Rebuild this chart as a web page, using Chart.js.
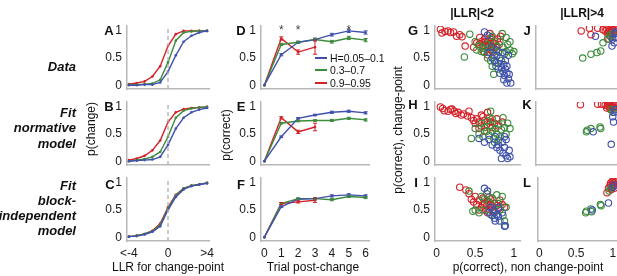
<!DOCTYPE html>
<html lang="en">
<head>
<meta charset="UTF-8">
<title>Change-point behaviour panels</title>
<script src="https://cdn.jsdelivr.net/npm/chart.js"></script>
<style>
  body { margin: 0; width: 617px; height: 276px; overflow: hidden; background: #fff;
         font-family: "Liberation Sans", Arial, sans-serif; position: relative; color: #111; }
  canvas { position: absolute; }
  .t { position: absolute; white-space: nowrap; line-height: 1; }
  .leg { position: absolute; height: 2px; width: 12px; }
</style>
</head>
<body>
<script>
// ---- data ----
const llrX = [-4, -3.2, -2.4, -1.6, -0.8, 0, 0.8, 1.6, 2.4, 3.2, 4];
const aBlue  = [0.0, 0.0, 0.01, 0.01, 0.05, 0.25, 0.55, 0.8, 0.91, 0.97, 1.0];
const aGreen = [0.01, 0.01, 0.02, 0.03, 0.1, 0.42, 0.82, 0.97, 0.99, 1.0, 1.0];
const aRed   = [0.02, 0.04, 0.07, 0.16, 0.35, 0.72, 0.94, 1.0, 1.0, 1.0, 1.0];
const bBlue  = [0.0, 0.01, 0.02, 0.03, 0.08, 0.3, 0.6, 0.8, 0.9, 0.95, 0.98];
const bGreen = [0.0, 0.02, 0.04, 0.08, 0.17, 0.45, 0.8, 0.93, 0.97, 0.99, 1.0];
const bRed   = [0.02, 0.05, 0.1, 0.2, 0.38, 0.72, 0.9, 0.96, 0.98, 0.99, 1.0];
const cBlue  = [0.01, 0.02, 0.05, 0.1, 0.2, 0.5, 0.74, 0.88, 0.94, 0.97, 0.99];
const cGreen = [0.01, 0.03, 0.06, 0.11, 0.23, 0.53, 0.77, 0.9, 0.95, 0.97, 1.0];
const cRed   = [0.01, 0.03, 0.06, 0.12, 0.25, 0.55, 0.78, 0.9, 0.95, 0.97, 1.0];

const trialX = [0, 1, 2, 3, 4, 5, 6];
const redTrialX = [0, 1, 2, 3];
const dBlue  = [0, 0.56, 0.79, 0.84, 0.93, 1.0, 0.97];
const dGreen = [0, 0.75, 0.79, 0.84, 0.8, 0.87, 0.83];
const dRed   = [0, 0.86, 0.61, 0.7];
const dBlueErr  = [0, 0.02, 0.02, 0.025, 0.025, 0.03, 0.03];
const dGreenErr = [0, 0.02, 0.02, 0.025, 0.025, 0.03, 0.03];
const dRedErr   = [0, 0.03, 0.04, 0.13];
const eBlue  = [0, 0.45, 0.79, 0.85, 0.9, 0.92, 0.89];
const eGreen = [0, 0.7, 0.74, 0.75, 0.75, 0.79, 0.76];
const eRed   = [0, 0.8, 0.54, 0.63];
const eBlueErr  = [0, 0.015, 0.015, 0.015, 0.02, 0.02, 0.02];
const eGreenErr = [0, 0.015, 0.015, 0.015, 0.02, 0.02, 0.02];
const eRedErr   = [0, 0.02, 0.03, 0.07];
const fBlue  = [0, 0.56, 0.7, 0.71, 0.76, 0.78, 0.76];
const fGreen = [0, 0.62, 0.71, 0.71, 0.69, 0.75, 0.73];
const fRed   = [0, 0.62, 0.65, 0.68];
const fBlueErr  = [0, 0.015, 0.015, 0.02, 0.02, 0.02, 0.02];
const fGreenErr = [0, 0.015, 0.015, 0.02, 0.02, 0.02, 0.02];
const fRedErr   = [0, 0.02, 0.02, 0.04];
const starX = [1, 2, 5];
const starY = 1.07;

// p(correct) non change-point vs change-point
const gRed = [[0.05,1.03],[0.07,0.96],[0.11,0.99],[0.15,1.0],[0.18,0.97],[0.22,0.98],[0.26,0.9],[0.3,0.93],[0.33,0.89],
  [0.37,0.72],[0.48,0.7],[0.52,0.78],[0.55,0.75],[0.56,0.88],[0.58,0.8],[0.6,0.72],[0.61,0.62],[0.62,0.85],[0.64,0.7],
  [0.65,0.78],[0.66,0.56],[0.67,0.82],[0.68,0.75],[0.69,0.95],[0.7,0.65],[0.71,0.88],[0.72,0.72],[0.73,0.6],[0.74,0.78],
  [0.75,0.82],[0.77,0.7],[0.79,0.85],[0.81,0.75],[0.83,0.9],[0.63,0.8],[0.66,0.73],[0.7,0.8]];
const gGreen = [[0.36,0.52],[0.43,0.94],[0.5,0.8],[0.55,0.72],[0.6,0.68],[0.62,0.6],[0.65,0.75],[0.68,0.7],[0.7,0.85],
  [0.72,0.9],[0.74,0.65],[0.75,0.55],[0.78,0.72],[0.8,0.62],[0.82,0.8],[0.85,0.95],[0.86,0.7],[0.88,0.58],[0.9,0.62],
  [0.92,0.75],[0.95,0.65],[0.98,0.58],[1.0,0.62],[0.7,0.45],[0.72,0.35],[0.76,0.42],[0.8,0.3],[0.74,0.2],[0.84,0.45],
  [0.66,0.5],[0.58,0.62],[0.9,0.88],[0.52,0.65],[0.95,0.8]];
const gBlue = [[0.62,0.98],[0.66,0.92],[0.68,0.6],[0.72,0.5],[0.75,0.45],[0.78,0.55],[0.8,0.4],[0.82,0.5],[0.84,0.32],
  [0.86,0.25],[0.87,0.38],[0.89,0.3],[0.88,0.18],[0.91,0.22],[0.93,0.12],[0.91,0.04],[0.96,0.04],[0.78,0.65],[0.85,0.6],
  [0.89,0.45],[0.94,0.2],[0.82,0.22],[0.77,0.35],[0.71,0.7],[0.87,0.1],[0.91,0.35],[0.93,0.55]];
const hRed = [[0.05,1.0],[0.08,0.97],[0.1,0.93],[0.15,0.92],[0.18,0.95],[0.2,0.96],[0.23,0.92],[0.25,0.88],[0.28,0.9],
  [0.32,0.85],[0.35,0.87],[0.4,0.83],[0.42,0.92],[0.45,0.8],[0.48,0.75],[0.5,0.7],[0.52,0.78],[0.55,0.72],[0.58,0.65],
  [0.6,0.82],[0.62,0.75],[0.65,0.68],[0.68,0.8],[0.7,0.72],[0.72,0.62],[0.75,0.7],[0.78,0.78],[0.55,0.6],[0.62,0.55],
  [0.8,0.65],[0.85,0.72],[0.58,0.85],[0.66,0.9]];
const hGreen = [[0.45,0.42],[0.5,0.6],[0.55,0.5],[0.6,0.45],[0.62,0.62],[0.65,0.55],[0.68,0.48],[0.7,0.65],[0.72,0.55],
  [0.74,0.42],[0.76,0.6],[0.78,0.5],[0.8,0.68],[0.82,0.45],[0.84,0.58],[0.86,0.8],[0.88,0.62],[0.9,0.5],[0.7,0.92],
  [0.66,0.75],[0.58,0.7],[0.75,0.35],[0.92,0.7],[0.8,0.38],[0.95,0.6],[0.72,0.78]];
const hBlue = [[0.55,0.42],[0.62,0.35],[0.68,0.4],[0.72,0.3],[0.76,0.45],[0.8,0.3],[0.82,0.2],[0.85,0.35],[0.86,0.15],
  [0.88,0.25],[0.9,0.1],[0.92,0.05],[0.95,0.08],[0.9,0.4],[0.84,0.05],[0.78,0.25],[0.88,0.45],[0.94,0.2]];
const iRed = [[0.3,0.92],[0.38,0.87],[0.42,0.8],[0.45,0.7],[0.48,0.65],[0.5,0.75],[0.52,0.6],[0.55,0.68],[0.58,0.55],
  [0.6,0.72],[0.62,0.62],[0.64,0.5],[0.65,0.58],[0.66,0.66],[0.68,0.52],[0.7,0.6],[0.7,0.7],[0.72,0.55],[0.74,0.48],
  [0.75,0.62],[0.78,0.58],[0.8,0.52],[0.82,0.68],[0.85,0.6],[0.88,0.55],[0.66,0.45],[0.6,0.6],[0.55,0.5],[0.68,0.74]];
const iGreen = [[0.42,0.85],[0.47,0.48],[0.5,0.5],[0.55,0.45],[0.6,0.5],[0.62,0.7],[0.65,0.8],[0.68,0.65],[0.72,0.72],
  [0.75,0.45],[0.78,0.78],[0.8,0.62],[0.82,0.5],[0.85,0.75],[0.86,0.4],[0.88,0.3],[0.9,0.55],[0.7,0.42],[0.58,0.75]];
const iBlue = [[0.62,0.9],[0.66,0.85],[0.68,0.45],[0.72,0.4],[0.75,0.35],[0.78,0.42],[0.8,0.38],[0.82,0.3],[0.85,0.45],
  [0.88,0.2],[0.89,0.21],[0.74,0.5],[0.7,0.55],[0.8,0.55],[0.76,0.3]];
const jRed = [[0.58,1.0],[0.69,1.05],[0.71,0.93],[0.8,1.05],[0.87,1.02],[0.9,1.0],[0.92,1.03],[0.94,0.98],[0.95,1.0],
  [0.96,1.04],[0.97,0.97],[0.98,1.0],[0.99,0.95],[1.0,1.02],[1.01,0.98],[1.02,1.03],[0.93,0.95],[0.97,0.9],[0.95,0.85],
  [1.03,1.0],[0.99,1.04]];
const jGreen = [[0.6,0.5],[0.71,0.57],[0.79,0.6],[0.84,0.63],[0.87,0.78],[0.93,0.85],[0.96,0.92],[0.98,0.88],[1.0,0.95]];
const jBlue = [[0.77,0.9],[1.03,0.95],[1.02,0.78],[0.99,0.72],[1.04,0.88],[1.0,0.85],[1.04,0.98]];
const kRed = [[0.57,1.04],[0.8,1.05],[0.85,1.05],[0.9,1.03],[0.92,0.98],[0.94,1.05],[0.95,1.0],[0.96,1.04],[0.97,0.95],
  [0.98,1.02],[0.99,0.98],[1.0,1.05],[1.01,1.0],[1.02,1.03],[0.93,1.02],[0.97,1.06],[1.03,0.98]];
const kGreen = [[0.65,0.54],[0.66,0.57],[0.71,0.6],[0.83,0.63],[0.84,0.6],[0.98,0.95],[1.0,0.9]];
const kBlue = [[0.74,0.54],[1.0,0.82],[1.01,0.72],[0.98,0.31],[1.02,0.9],[1.03,0.95]];
const lRed = [[0.92,0.82],[0.94,0.9],[0.96,0.95],[0.97,1.0],[0.98,0.93],[0.99,1.02],[1.0,0.97],[1.01,1.0],[1.02,0.95],
  [1.03,1.02],[1.0,1.04],[0.98,0.88],[1.02,0.9]];
const lGreen = [[0.63,0.45],[0.64,0.48],[0.7,0.52],[0.71,0.47],[0.83,0.6],[0.84,0.58],[0.95,0.85],[0.97,0.9]];
const lBlue = [[0.72,0.5],[0.94,0.63],[1.0,0.92],[1.02,0.96]];

// ---- style ----
const BLUE = '#4050ad', GREEN = '#3d8b3d', RED = '#d42128', AXIS = '#b8b8b8';
Chart.defaults.font.family = '"Liberation Sans", Arial, sans-serif';
Chart.defaults.font.size = 12;
Chart.defaults.color = '#1a1a1a';
Chart.defaults.animation = false;

const xy = (xs, ys) => ys.map((y, i) => ({ x: xs[i], y: y }));
const pts = arr => arr.map(p => ({ x: p[0], y: p[1] }));

function lineSet(xs, ys, color, errs) {
  return { data: xy(xs, ys), borderColor: color, backgroundColor: color, showLine: true,
           borderWidth: 1.4, pointRadius: 1.3, pointBorderWidth: 0, errs: errs };
}
function dotSet(arr, color) {
  return { data: pts(arr), borderColor: color, backgroundColor: 'rgba(0,0,0,0)',
           pointRadius: 3.2, borderWidth: 1.1, pointBorderWidth: 1.1 };
}
function dashSet() {
  return { data: [{ x: 0, y: -0.07 }, { x: 0, y: 1.09 }], borderColor: '#b0b0b0', borderDash: [4, 3],
           borderWidth: 1.3, showLine: true, pointRadius: 0 };
}

const errorBars = {
  id: 'errorBars',
  afterDatasetsDraw(chart) {
    const ctx = chart.ctx, ys = chart.scales.y;
    chart.data.datasets.forEach((ds, i) => {
      if (!ds.errs) return;
      const meta = chart.getDatasetMeta(i);
      ctx.save();
      ctx.strokeStyle = ds.borderColor;
      ctx.lineWidth = 1;
      meta.data.forEach((pt, j) => {
        const e = ds.errs[j];
        if (!e) return;
        const v = ds.data[j].y;
        const top = ys.getPixelForValue(v + e), bot = ys.getPixelForValue(v - e);
        ctx.beginPath();
        ctx.moveTo(pt.x, top); ctx.lineTo(pt.x, bot);
        ctx.moveTo(pt.x - 2, top); ctx.lineTo(pt.x + 2, top);
        ctx.moveTo(pt.x - 2, bot); ctx.lineTo(pt.x + 2, bot);
        ctx.stroke();
      });
      ctx.restore();
    });
  }
};

const stars = {
  id: 'stars',
  afterDraw(chart, args, opts) {
    if (!opts.xs) return;
    const ctx = chart.ctx;
    ctx.save();
    ctx.fillStyle = '#444';
    ctx.font = '12px "Liberation Sans", Arial, sans-serif';
    ctx.textAlign = 'center';
    ctx.textBaseline = 'alphabetic';
    opts.xs.forEach(x => {
      ctx.fillText('*', chart.scales.x.getPixelForValue(x), chart.scales.y.getPixelForValue(opts.y) + 7);
    });
    ctx.restore();
  }
};

// rect: [left, top, right, bottom] of the plot area on the page
function panel(rect, xr, datasets, o) {
  const yw = o.yTicks ? 34 : 3;
  const xh = o.xTicks ? 22 : 0;
  const padTop = 14, padBot = o.xTicks ? 0 : 14, padRight = 12;
  const c = document.createElement('canvas');
  const w = (rect[2] - rect[0]) + yw + padRight;
  const h = (rect[3] - rect[1]) + padTop + padBot + xh;
  c.width = w; c.height = h;
  c.style.left = (rect[0] - yw) + 'px';
  c.style.top = (rect[1] - padTop) + 'px';
  document.body.appendChild(c);
  new Chart(c, {
    type: 'scatter',
    data: { datasets: datasets },
    plugins: [errorBars, stars],
    options: {
      responsive: false,
      devicePixelRatio: 1,
      layout: { padding: { top: padTop, bottom: padBot, right: padRight, left: 0 } },
      plugins: { legend: { display: false }, tooltip: { enabled: false }, stars: o.stars || {} },
      scales: {
        x: {
          type: 'linear', min: xr[0], max: xr[1],
          grid: { display: false, drawTicks: false },
          border: { display: true, color: AXIS, width: 1.5 },
          ticks: { display: !!o.xTicks, padding: 5, autoSkip: false, maxRotation: 0,
                   callback: o.xLabel || (v => String(v)) },
          afterBuildTicks: s => { s.ticks = o.xTickVals.map(v => ({ value: v })); },
          afterFit: s => { s.height = xh; }
        },
        y: {
          type: 'linear', min: -0.07, max: 1.09,
          grid: { display: false, drawTicks: false },
          border: { display: true, color: AXIS, width: 1.5 },
          ticks: { display: !!o.yTicks, padding: 5, autoSkip: false, callback: v => String(v) },
          afterBuildTicks: s => { s.ticks = [0, 0.5, 1].map(v => ({ value: v })); },
          afterFit: s => { s.width = yw; }
        }
      }
    }
  });
}

const llrTicks = [-4, 0, 4];
const llrLabel = v => (v === -4 ? '<-4' : v === 4 ? '>4' : String(v));
const fracTicks = [0, 0.5, 1];

// column 1: p(change) vs LLR
panel([127, 26, 209, 89], [-4.2, 4.2], [dashSet(), lineSet(llrX, aBlue, BLUE), lineSet(llrX, aGreen, GREEN), lineSet(llrX, aRed, RED)],
      { yTicks: true, xTickVals: llrTicks });
panel([127, 102, 209, 165], [-4.2, 4.2], [dashSet(), lineSet(llrX, bBlue, BLUE), lineSet(llrX, bGreen, GREEN), lineSet(llrX, bRed, RED)],
      { yTicks: true, xTickVals: llrTicks });
panel([127, 178, 209, 241], [-4.2, 4.2], [dashSet(), lineSet(llrX, cBlue, BLUE), lineSet(llrX, cGreen, GREEN), lineSet(llrX, cRed, RED)],
      { yTicks: true, xTicks: true, xTickVals: llrTicks, xLabel: llrLabel });

// column 2: p(correct) vs trial post-change
panel([261, 26, 369, 89], [-0.2, 6.2], [lineSet(trialX, dBlue, BLUE, dBlueErr), lineSet(trialX, dGreen, GREEN, dGreenErr), lineSet(redTrialX, dRed, RED, dRedErr)],
      { yTicks: true, xTickVals: trialX, stars: { xs: starX, y: starY } });
panel([261, 102, 369, 165], [-0.2, 6.2], [lineSet(trialX, eBlue, BLUE, eBlueErr), lineSet(trialX, eGreen, GREEN, eGreenErr), lineSet(redTrialX, eRed, RED, eRedErr)],
      { yTicks: true, xTickVals: trialX });
panel([261, 178, 369, 241], [-0.2, 6.2], [lineSet(trialX, fBlue, BLUE, fBlueErr), lineSet(trialX, fGreen, GREEN, fGreenErr), lineSet(redTrialX, fRed, RED, fRedErr)],
      { yTicks: true, xTicks: true, xTickVals: trialX });

// columns 3-4: scatter
panel([435, 26, 520, 89], [-0.02, 1.08], [dotSet(gBlue, BLUE), dotSet(gGreen, GREEN), dotSet(gRed, RED)], { yTicks: true, xTickVals: fracTicks });
panel([435, 102, 520, 165], [-0.02, 1.08], [dotSet(hBlue, BLUE), dotSet(hGreen, GREEN), dotSet(hRed, RED)], { yTicks: true, xTickVals: fracTicks });
panel([435, 178, 520, 241], [-0.02, 1.08], [dotSet(iBlue, BLUE), dotSet(iGreen, GREEN), dotSet(iRed, RED)], { yTicks: true, xTicks: true, xTickVals: fracTicks });
panel([534, 26, 618, 89], [-0.02, 1.07], [dotSet(jBlue, BLUE), dotSet(jGreen, GREEN), dotSet(jRed, RED)], { xTickVals: fracTicks });
panel([534, 102, 618, 165], [-0.02, 1.07], [dotSet(kBlue, BLUE), dotSet(kGreen, GREEN), dotSet(kRed, RED)], { xTickVals: fracTicks });
panel([534, 178, 618, 241], [-0.02, 1.07], [dotSet(lBlue, BLUE), dotSet(lGreen, GREEN), dotSet(lRed, RED)], { xTicks: true, xTickVals: fracTicks });

// ---- text ----
function txt(s, x, y, o) {
  o = o || {};
  const d = document.createElement('div');
  d.className = 't';
  d.textContent = s;
  d.style.fontSize = (o.size || 12) + 'px';
  if (o.bold) d.style.fontWeight = 'bold';
  if (o.italic) d.style.fontStyle = 'italic';
  d.style.left = x + 'px';
  d.style.top = y + 'px';
  const ax = o.align === 'right' ? '-100%' : o.align === 'left' ? '0' : '-50%';
  d.style.transform = 'translate(' + ax + ',-50%)';
  document.body.appendChild(d);
  return d;
}
function vtxt(s, x, y) {
  const d = document.createElement('div');
  d.className = 't';
  d.textContent = s;
  d.style.fontSize = '12px';
  d.style.left = x + 'px';
  d.style.top = y + 'px';
  d.style.transform = 'translate(-50%,-50%) rotate(-90deg)';
  document.body.appendChild(d);
}

const rowLab = { size: 13, bold: true, italic: true, align: 'right' };
txt('Data', 76, 66, rowLab);
txt('Fit', 76, 112, rowLab);
txt('normative', 76, 127, rowLab);
txt('model', 76, 143, rowLab);
txt('Fit', 76, 185, rowLab);
txt('block-', 76, 200, rowLab);
txt('independent', 76, 215, rowLab);
txt('model', 76, 230, rowLab);

const letter = { size: 13, bold: true };
txt('A', 109, 30, letter); txt('B', 109, 106, letter); txt('C', 110, 184, letter);
txt('D', 241, 30, letter); txt('E', 241, 106, letter); txt('F', 241, 184, letter);
txt('G', 413, 30, letter); txt('H', 413, 104, letter); txt('I', 416, 182, letter);
txt('J', 527, 30, letter); txt('K', 527, 104, letter); txt('L', 527, 182, letter);

txt('|LLR|<2', 472, 13, { size: 12, bold: true });
txt('|LLR|>4', 582, 13, { size: 12, bold: true });

txt('LLR for change-point', 168, 267);
txt('Trial post-change', 313, 267);
txt('p(correct), non change-point', 528, 267);
vtxt('p(change)', 91, 129);
vtxt('p(correct)', 226, 135);
vtxt('p(correct), change-point', 398, 130);

// legend inside D
const legItems = [['H=0.05\u20130.1', BLUE, 58], ['0.3\u20130.7', GREEN, 70], ['0.9\u20130.95', RED, 83]];
legItems.forEach(it => {
  const l = document.createElement('div');
  l.className = 'leg';
  l.style.background = it[1];
  l.style.left = '315px';
  l.style.top = (it[2] - 1) + 'px';
  document.body.appendChild(l);
  txt(it[0], 330, it[2], { size: 10.5, align: 'left' });
});
</script>
</body>
</html>
